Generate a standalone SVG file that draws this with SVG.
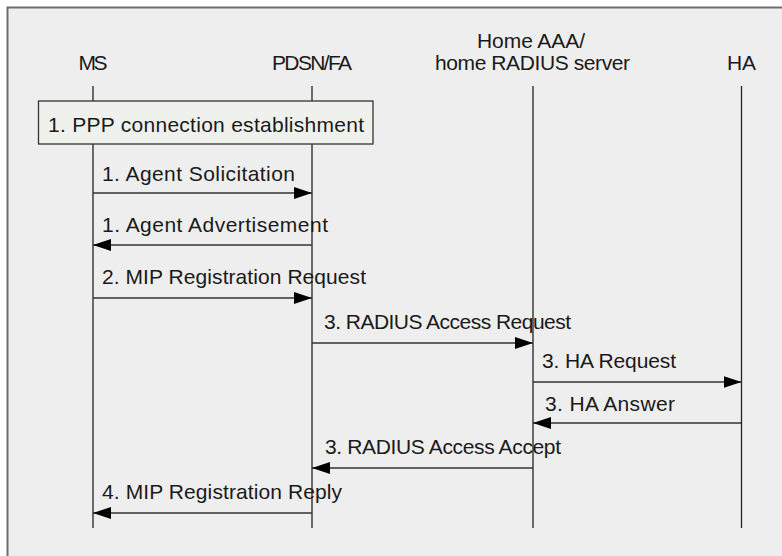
<svg xmlns="http://www.w3.org/2000/svg" width="782" height="556" viewBox="0 0 782 556">
<defs>
<style>
text{font-family:"Liberation Sans",Arial,sans-serif;font-size:21px;fill:#1a1a1a}
.mid{text-anchor:middle}
.life{stroke:#222;stroke-width:1.3;fill:none}
.msg{stroke:#333;stroke-width:1.6;fill:none}
</style>
<marker id="ah" viewBox="0 0 18 12" refX="18" refY="6" markerWidth="18" markerHeight="12" markerUnits="userSpaceOnUse" orient="auto">
<path d="M0,0 L18,6 L0,12 Z" fill="#000"/>
</marker>
</defs>
<rect x="0" y="0" width="782" height="556" fill="#fff"/>
<rect x="7.5" y="7.5" width="790" height="560" fill="#eeeeee" stroke="#6e6e6e" stroke-width="2"/>

<g id="node-ms">
<text class="mid" x="93" y="70" textLength="29">MS</text>
<line class="life" x1="93" y1="86" x2="93" y2="528"/>
</g>
<g id="node-pdsn">
<text class="mid" x="312" y="70" textLength="80">PDSN/FA</text>
<line class="life" x1="312" y1="86" x2="312" y2="528"/>
</g>
<g id="node-aaa">
<text class="mid" x="531" y="48" textLength="108">Home AAA/</text>
<text class="mid" x="532.5" y="70" textLength="195">home RADIUS server</text>
<line class="life" x1="533" y1="86" x2="533" y2="528"/>
</g>
<g id="node-ha">
<text class="mid" x="741.5" y="70" textLength="29">HA</text>
<line class="life" x1="741.5" y1="86" x2="741.5" y2="528"/>
</g>
<g id="node-ppp">
<rect x="38.5" y="101" width="334.5" height="43" fill="#eff1ed" stroke="#333" stroke-width="1.3"/>
<text x="48" y="131.5" textLength="316">1.  PPP connection establishment</text>
</g>

<g id="connectors">
<line class="msg" x1="93" y1="193" x2="312" y2="193" marker-end="url(#ah)"/>
<line class="msg" x1="312" y1="245" x2="93" y2="245" marker-end="url(#ah)"/>
<line class="msg" x1="93" y1="298" x2="312" y2="298" marker-end="url(#ah)"/>
<line class="msg" x1="312" y1="343" x2="533" y2="343" marker-end="url(#ah)"/>
<line class="msg" x1="533" y1="382" x2="741.5" y2="382" marker-end="url(#ah)"/>
<line class="msg" x1="741.5" y1="423" x2="533" y2="423" marker-end="url(#ah)"/>
<line class="msg" x1="533" y1="468" x2="312" y2="468" marker-end="url(#ah)"/>
<line class="msg" x1="312" y1="513" x2="93" y2="513" marker-end="url(#ah)"/>
<text x="102" y="181" textLength="193">1. Agent Solicitation</text>
<text x="102" y="232" textLength="226">1. Agent Advertisement</text>
<text x="102" y="283.5" textLength="264">2. MIP Registration Request</text>
<text x="324" y="328.5" textLength="247">3. RADIUS Access Request</text>
<text x="542" y="367.5" textLength="134">3. HA Request</text>
<text x="545" y="410.5" textLength="130">3. HA Answer</text>
<text x="325" y="454" textLength="236">3. RADIUS Access Accept</text>
<text x="102" y="498.5" textLength="240">4. MIP Registration Reply</text>
</g>
</svg>
